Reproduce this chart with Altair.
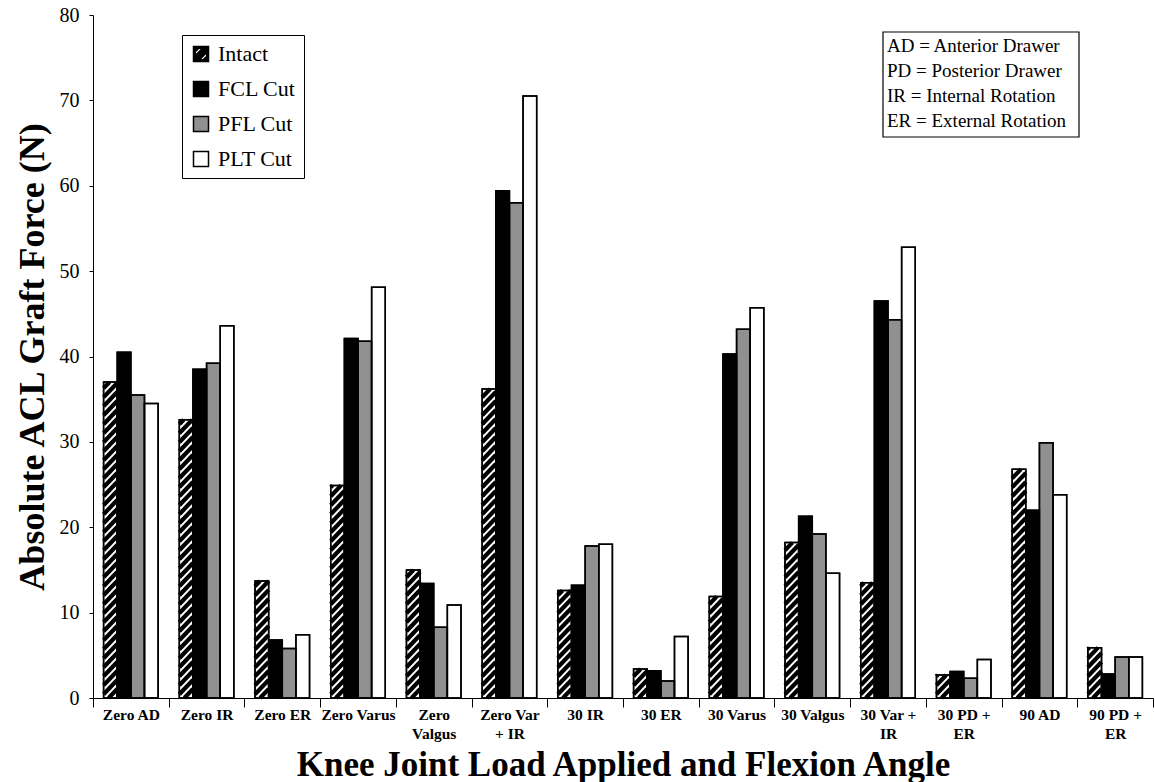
import json
import altair as alt
import pandas as pd

# ---------------- data ----------------
categories = ["Zero AD", "Zero IR", "Zero ER", "Zero Varus", "Zero\nValgus", "Zero Var\n+ IR",
              "30 IR", "30 ER", "30 Varus", "30 Valgus", "30 Var +\nIR", "30 PD +\nER",
              "90 AD", "90 PD +\nER"]
series = ["Intact", "FCL Cut", "PFL Cut", "PLT Cut"]
intact = [37.0, 32.6, 13.7, 24.9, 15.0, 36.2, 12.6, 3.4, 11.9, 18.2, 13.5, 2.7, 26.8, 5.9]
fcl_cut = [40.5, 38.5, 6.8, 42.1, 13.4, 59.4, 13.2, 3.2, 40.3, 21.3, 46.5, 3.1, 22.0, 2.8]
pfl_cut = [35.5, 39.2, 5.8, 41.8, 8.3, 58.0, 17.8, 2.0, 43.2, 19.2, 44.3, 2.3, 29.9, 4.8]
plt_cut = [34.5, 43.6, 7.4, 48.1, 10.9, 70.5, 18.0, 7.2, 45.7, 14.6, 52.8, 4.5, 23.8, 4.8]
y_ticks = [0, 10, 20, 30, 40, 50, 60, 70, 80]
abbrev_lines = ["AD = Anterior Drawer", "PD = Posterior Drawer",
                "IR  = Internal Rotation", "ER = External Rotation"]

rows = []
for si, (s, vals) in enumerate(zip(series, [intact, fcl_cut, pfl_cut, plt_cut])):
    for ci, (c, v) in enumerate(zip(categories, vals)):
        rows.append({"cat": c, "ci": ci, "series": s, "si": si, "value": v})
table = pd.DataFrame(rows)

# ---------------- layout ----------------
PLOT_W, PLOT_H = 1060, 683
NCAT = len(categories)
YMAX = 80
px_x = PLOT_W / NCAT
px_y = PLOT_H / YMAX
BAR_W = 0.18
OFF = 0.5 - 2 * BAR_W
RISE = BAR_W * px_x / px_y * 1.05     # ~45 degree hatch
PERIOD = 9.0 / px_y

xscale = alt.Scale(domain=[0, NCAT], nice=False, zero=False)
yscale = alt.Scale(domain=[0, YMAX], nice=False)

label_arr = json.dumps(categories)
xaxis = alt.Axis(
    values=list(range(NCAT + 1)), tickSize=9, tickColor="black", domainColor="black",
    labelExpr=f"datum.value < {NCAT} ? split({label_arr}[datum.value], '\\n') : ''",
    labelOffset=px_x / 2, labelFlush=False, labelOverlap=False,
    labelFont="Liberation Serif", labelFontWeight="bold", labelFontSize=15.5,
    labelColor="black", labelBaseline="top", labelLineHeight=19, labelPadding=0,
    grid=False, title="Knee Joint Load Applied and Flexion Angle",
    titleFont="Liberation Serif", titleFontWeight="bold", titleFontSize=35,
    titleColor="black", titleX=PLOT_W / 2, titleY=77, titleAlign="center",
    titleBaseline="alphabetic",
)
yaxis = alt.Axis(
    values=y_ticks, tickSize=4, tickColor="black", domainColor="black",
    labelFont="Liberation Serif", labelFontSize=20, labelColor="black", labelPadding=10,
    grid=False, title="Absolute ACL Graft Force (N)",
    titleFont="Liberation Serif", titleFontWeight="bold", titleFontSize=36,
    titleColor="black", titleX=-50, titleY=PLOT_H / 2, titleAlign="center",
    titleBaseline="alphabetic", titleAngle=270,
)

fill_scale = alt.Scale(domain=series, range=["black", "black", "#909090", "white"])
intact_path = ("M-1,-1H1V1H-1Z M-0.76,-0.76V0.76H0.76V-0.76Z "
               "M-0.76,0.2L0.2,-0.76L0.76,-0.76L0.76,-0.2L-0.2,0.76L-0.76,0.76Z "
               "M-0.76,-0.76L-0.3,-0.76L-0.76,-0.3Z M0.76,0.76L0.3,0.76L0.76,0.3Z")
shape_scale = alt.Scale(domain=series, range=[intact_path, "square", "square", "square"])

base = alt.Chart(table).transform_calculate(
    xb0=f"datum.ci + {OFF} + datum.si * {BAR_W}",
    xb1=f"datum.ci + {OFF} + (datum.si + 1) * {BAR_W}",
    y0="0",
)

bars = base.mark_rect(stroke="black", strokeWidth=1.5).encode(
    x=alt.X("xb0:Q", scale=xscale, axis=xaxis),
    x2="xb1:Q",
    y=alt.Y("value:Q", scale=yscale, axis=yaxis),
    y2="y0:Q",
    fill=alt.condition(alt.datum.series == "Intact", alt.value("white"),
                       alt.Fill("series:N", scale=fill_scale)),
)

hatch = alt.Chart(table).transform_filter(alt.datum.series == "Intact").transform_calculate(
    x0=f"datum.ci + {OFF}",
    ks=f"sequence(0, ceil((datum.value + {RISE}) / {PERIOD}) + 1)",
).transform_flatten(["ks"]).transform_calculate(
    yl=f"datum.ks * {PERIOD} - {RISE}",
).transform_calculate(
    t0=f"max(0, -datum.yl / {RISE})",
    t1=f"min(1, (datum.value - datum.yl) / {RISE})",
).transform_filter("datum.t1 > datum.t0 + 0.02").transform_calculate(
    xa=f"datum.x0 + datum.t0 * {BAR_W}",
    ya=f"datum.yl + datum.t0 * {RISE}",
    xe=f"datum.x0 + datum.t1 * {BAR_W}",
    ye=f"datum.yl + datum.t1 * {RISE}",
).mark_rule(color="black", strokeWidth=4.2, strokeCap="butt").encode(
    x=alt.X("xa:Q", scale=xscale, axis=xaxis),
    x2="xe:Q",
    y=alt.Y("ya:Q", scale=yscale, axis=yaxis),
    y2="ye:Q",
)

outlines = base.mark_rect(fill="transparent", stroke="black", strokeWidth=1.5).encode(
    x=alt.X("xb0:Q", scale=xscale, axis=xaxis),
    x2="xb1:Q",
    y=alt.Y("value:Q", scale=yscale, axis=yaxis),
    y2="y0:Q",
)

legend_pts = alt.Chart(table).transform_filter(alt.datum.ci == 0).mark_point(
    filled=True, opacity=1, stroke="black", strokeWidth=1.5
).encode(
    x=alt.value(-3000),
    y=alt.value(-3000),
    fill=alt.Fill("series:N", scale=fill_scale,
                  legend=alt.Legend(title=None, orient="none", legendX=89, legendY=20,
                                    direction="vertical", fillColor="white",
                                    strokeColor="black", padding=8, symbolSize=225,
                                    symbolStrokeColor="black", symbolStrokeWidth=1.5,
                                    labelFont="Liberation Serif", labelFontSize=22,
                                    labelColor="black", rowPadding=13, labelOffset=6,
                                    labelLimit=300)),
    shape=alt.Shape("series:N", scale=shape_scale),
)

one = alt.Data(values=[{"k": 0}])
abbrev_box = alt.Chart(one).mark_rect(fill="white", stroke="black", strokeWidth=1.2).encode(
    x=alt.value(790), x2=alt.value(986), y=alt.value(17), y2=alt.value(122)
)
abbrev_text = alt.Chart(one).mark_text(
    align="left", baseline="top", font="Liberation Serif", fontSize=19,
    lineHeight=25, color="black"
).encode(x=alt.value(794), y=alt.value(22), text=alt.value(abbrev_lines))

chart = alt.layer(bars, hatch, outlines, abbrev_box, abbrev_text, legend_pts).properties(
    width=PLOT_W, height=PLOT_H,
    autosize=alt.AutoSizeParams(type="none"),
    padding={"left": 93, "top": 15, "right": 2, "bottom": 84},
    background="white",
).configure_view(stroke=None)

chart.save("out.html", embed_options={"renderer": "svg", "actions": False})
